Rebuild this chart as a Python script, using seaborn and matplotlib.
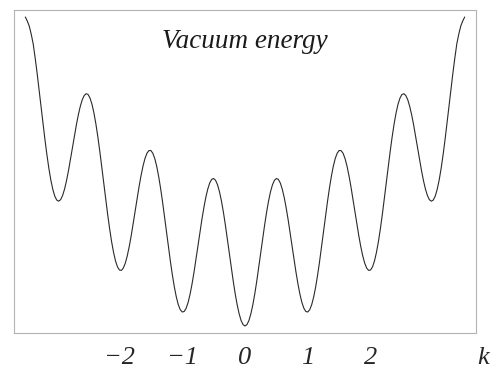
import numpy as np
import pandas as pd
import matplotlib
matplotlib.use("Agg")
import matplotlib.pyplot as plt
import seaborn as sns

# vacuum energy read off the picture for k >= 0, sampled every 1/32 in k (0 .. 3.5)
# the curve is mirror-symmetric about k = 0
energy_right = [
    0.0, 1.4, 5.5, 12.3, 21.3, 32.3, 44.9, 58.6, 72.9, 87.2, 100.9, 113.7, 124.9, 134.2, 141.2, 145.7,
    147.5, 146.6, 143.0, 136.8, 128.4, 118.0, 106.2, 93.3, 79.9, 66.5, 53.7, 42.0, 31.8, 23.6, 17.8, 14.5,
    14.0, 16.3, 21.3, 28.9, 38.8, 50.7, 64.2, 78.7, 93.9, 109.0, 123.7, 137.3, 149.4, 159.6, 167.5, 172.8,
    175.5, 175.4, 172.7, 167.4, 159.9, 150.4, 139.4, 127.4, 114.9, 102.4, 90.4, 79.6, 70.3, 63.0, 58.0, 55.6,
    56.0, 59.1, 65.0, 73.5, 84.3, 97.1, 111.4, 126.9, 142.9, 158.9, 174.4, 188.9, 201.9, 212.9, 221.7, 227.9,
    231.5, 232.3, 230.4, 226.1, 219.4, 210.8, 200.7, 189.5, 177.9, 166.3, 155.2, 145.2, 136.8, 130.4, 126.3, 124.8,
    126.0, 130.0, 136.8, 146.1, 157.8, 171.5, 186.7, 203.0, 219.9, 236.8, 253.2, 268.5, 282.4, 292.0, 300.0, 305.0,
    309.0,
]
energy = energy_right[:0:-1] + energy_right
k = np.linspace(-3.5, 3.5, len(energy))

tick_pos = [-2, -1, 0, 1, 2]
tick_labels = ["\u22122", "\u22121", "0", "1", "2"]
title = "Vacuum energy"

sns.set_style("white")
plt.rcParams['font.family'] = ['Liberation Serif', 'DejaVu Serif']

df = pd.DataFrame({'k': k, 'energy': energy})

fig = plt.figure(figsize=(4.96, 3.68), dpi=100)
ax = fig.add_axes([14 / 496, 35 / 368, 462 / 496, 323 / 368])
sns.lineplot(data=df, x='k', y='energy', ax=ax, color='#2a2a2a', linewidth=0.8)

ax.set_xlim(-3.68, 3.68)
ax.set_ylim(-7, 316)
ax.set_xticks(tick_pos)
ax.set_xticklabels(tick_labels, fontstyle='italic', fontsize=19)
ax.set_yticks([])
ax.tick_params(axis='x', length=0, pad=10)
for s in ax.spines.values():
    s.set_color('#b4b4b4')
    s.set_linewidth(0.8)

ax.set_ylabel('')
ax.set_xlabel('k', fontstyle='italic', fontsize=19, va='center')
ax.xaxis.set_label_coords(1.016, -0.076)

ax.text(0.5, 0.904, title, transform=ax.transAxes, ha='center', va='center',
        fontsize=19.5, fontstyle='italic', color='#1a1a1a')

fig.savefig('out.png', dpi=100)
